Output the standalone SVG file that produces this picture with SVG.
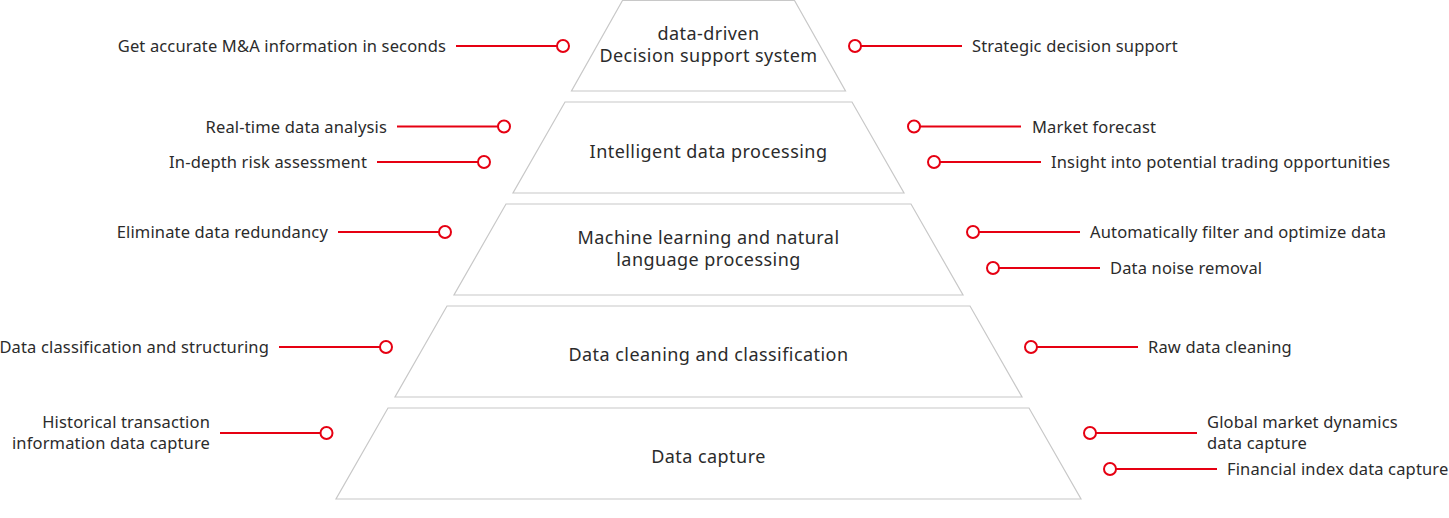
<svg xmlns="http://www.w3.org/2000/svg" width="1449" height="518" viewBox="0 0 1449 518">
<style>
.tier{fill:#ffffff;stroke:#c8c8c8;stroke-width:1.2}
.tt{font-family:"Noto Sans","Liberation Sans",sans-serif;font-size:18px;letter-spacing:0.45px;fill:#2b2b2b;text-anchor:middle}
.lbl{font-family:"Noto Sans","Liberation Sans",sans-serif;font-size:16.5px;letter-spacing:0.15px;fill:#2b2b2b}
.l{text-anchor:end}
.ln{stroke:#e60012;stroke-width:2;fill:none}
.dot{fill:#ffffff;stroke:#e60012;stroke-width:2}
</style>
<rect width="1449" height="518" fill="#ffffff"/>
<g id="tier1"><polygon class="tier" points="622.5,0.5 794.5,0.5 845.5,91 571.5,91"/><text class="tt" x="708.5" y="40"><tspan x="708.5" y="40">data-driven</tspan><tspan x="708.5" y="62.2">Decision support system</tspan></text></g>
<g id="tier2"><polygon class="tier" points="565,102 852,102 904,193 513,193"/><text class="tt" x="708.5" y="157.5">Intelligent data processing</text></g>
<g id="tier3"><polygon class="tier" points="506,204 911,204 963,295 454,295"/><text class="tt" x="708.5" y="244"><tspan x="708.5" y="244">Machine learning and natural</tspan><tspan x="708.5" y="266.2">language processing</tspan></text></g>
<g id="tier4"><polygon class="tier" points="447,306 970,306 1022,397 395,397"/><text class="tt" x="708.5" y="360.5">Data cleaning and classification</text></g>
<g id="tier5"><polygon class="tier" points="388,408 1029,408 1081,499 336,499"/><text class="tt" x="708.5" y="463">Data capture</text></g>
<g id="connectors">
<line class="ln" x1="456" y1="46" x2="557" y2="46"/><circle class="dot" cx="563" cy="46" r="6"/>
<line class="ln" x1="397" y1="126.5" x2="498" y2="126.5"/><circle class="dot" cx="504" cy="126.5" r="6"/>
<line class="ln" x1="377" y1="162" x2="478" y2="162"/><circle class="dot" cx="484" cy="162" r="6"/>
<line class="ln" x1="338" y1="232" x2="439" y2="232"/><circle class="dot" cx="445" cy="232" r="6"/>
<line class="ln" x1="279" y1="347" x2="380" y2="347"/><circle class="dot" cx="386" cy="347" r="6"/>
<line class="ln" x1="220" y1="433" x2="320" y2="433"/><circle class="dot" cx="326.5" cy="433" r="6"/>
<line class="ln" x1="861" y1="46" x2="962" y2="46"/><circle class="dot" cx="855" cy="46" r="6"/>
<line class="ln" x1="920" y1="126.5" x2="1021" y2="126.5"/><circle class="dot" cx="914" cy="126.5" r="6"/>
<line class="ln" x1="940" y1="162" x2="1041" y2="162"/><circle class="dot" cx="934" cy="162" r="6"/>
<line class="ln" x1="979" y1="232" x2="1080" y2="232"/><circle class="dot" cx="973" cy="232" r="6"/>
<line class="ln" x1="999" y1="268" x2="1100" y2="268"/><circle class="dot" cx="993" cy="268" r="6"/>
<line class="ln" x1="1037" y1="347" x2="1138" y2="347"/><circle class="dot" cx="1031" cy="347" r="6"/>
<line class="ln" x1="1096" y1="433" x2="1197" y2="433"/><circle class="dot" cx="1090" cy="433" r="6"/>
<line class="ln" x1="1116" y1="469" x2="1217" y2="469"/><circle class="dot" cx="1110" cy="469" r="6"/>
</g>
<g id="labels">
<text class="lbl l" x="446" y="52">Get accurate M&amp;A information in seconds</text>
<text class="lbl l" x="387" y="132.5">Real-time data analysis</text>
<text class="lbl l" x="367" y="168">In-depth risk assessment</text>
<text class="lbl l" x="328" y="238">Eliminate data redundancy</text>
<text class="lbl l" x="269" y="353">Data classification and structuring</text>
<text class="lbl l" x="210" y="428"><tspan x="210" y="428">Historical transaction</tspan><tspan x="210" y="449">information data capture</tspan></text>
<text class="lbl" x="972" y="52">Strategic decision support</text>
<text class="lbl" x="1032" y="132.5">Market forecast</text>
<text class="lbl" x="1051" y="168">Insight into potential trading opportunities</text>
<text class="lbl" x="1090" y="238">Automatically filter and optimize data</text>
<text class="lbl" x="1110" y="274">Data noise removal</text>
<text class="lbl" x="1148" y="353">Raw data cleaning</text>
<text class="lbl" x="1207" y="428"><tspan x="1207" y="428">Global market dynamics</tspan><tspan x="1207" y="449">data capture</tspan></text>
<text class="lbl" x="1227" y="475">Financial index data capture</text>
</g>
</svg>
